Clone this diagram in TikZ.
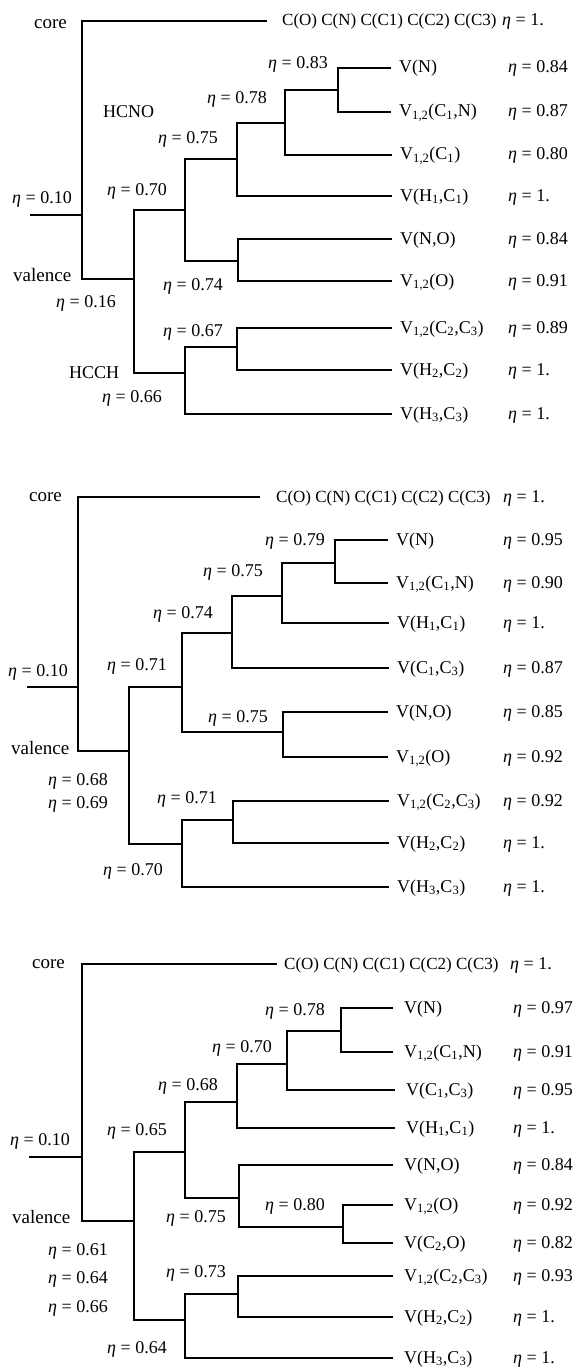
\documentclass[tikz,border=0pt]{standalone}
\usepackage{fontspec}
\setmainfont{Liberation Serif}
\newcommand\et[1]{{\itshape η} = #1}
\newcommand\lo[1]{\textsubscript{#1}}
% bracket of a dendrogram: parent #1 joins children #2 and #3
\newcommand\dbranch[3]{\draw[branch] (#2) -- (#2 -| #1) -- (#3 -| #1) -- (#3);}
\begin{document}
\begin{tikzpicture}[x=1pt,y=-1pt,
  branch/.style={line width=1.8pt, line join=miter},
  txt/.style={anchor=west, inner sep=0pt, text height=12pt, text depth=2pt,
              font=\fontsize{18}{21}\selectfont},
  big/.style={txt, font=\fontsize{19}{22}\selectfont},
  leaf/.style={txt, inner xsep=8pt},
  corerow/.style={leaf, font=\fontsize{17}{20}\selectfont},
  etaR/.style={txt}]
\useasboundingbox (0,0) rectangle (575,1367);

% ---------------- first tree ----------------
\coordinate (p1s) at (30,215);
\coordinate (p1r) at (82,215);
\coordinate (p1v) at (134,279);
\coordinate (p1hcno) at (185,210);
\coordinate (p1hcch) at (185,373);
\coordinate (p1a) at (237,159);
\coordinate (p1a1) at (285,123);
\coordinate (p1a2) at (338,90);
\coordinate (p1b) at (238,261);
\coordinate (p1c) at (237,347);

\node[corerow, inner xsep=15pt] (p1core) at (267,21) {C(O) C(N) C(C1) C(C2) C(C3)};
\node[leaf] (p1l1) at (391,68)  {V(N)};
\node[leaf] (p1l2) at (391,112) {V\lo{1,2}(C\lo{1},N)};
\node[leaf] (p1l3) at (392,155) {V\lo{1,2}(C\lo{1})};
\node[leaf] (p1l4) at (392,196) {V(H\lo{1},C\lo{1})};
\node[leaf] (p1l5) at (392,239) {V(N,O)};
\node[leaf] (p1l6) at (392,281) {V\lo{1,2}(O)};
\node[leaf] (p1l7) at (392,328) {V\lo{1,2}(C\lo{2},C\lo{3})};
\node[leaf] (p1l8) at (392,370) {V(H\lo{2},C\lo{2})};
\node[leaf] (p1l9) at (392,414) {V(H\lo{3},C\lo{3})};

\node[etaR] (p1e0) at (502,21)  {\et{1.}};
\node[etaR] (p1e1) at (508,68)  {\et{0.84}};
\node[etaR] (p1e2) at (508,112) {\et{0.87}};
\node[etaR] (p1e3) at (508,155) {\et{0.80}};
\node[etaR] (p1e4) at (508,196) {\et{1.}};
\node[etaR] (p1e5) at (508,239) {\et{0.84}};
\node[etaR] (p1e6) at (508,281) {\et{0.91}};
\node[etaR] (p1e7) at (508,328) {\et{0.89}};
\node[etaR] (p1e8) at (508,370) {\et{1.}};
\node[etaR] (p1e9) at (508,414) {\et{1.}};

\draw[branch] (p1s) -- (p1r);
\dbranch{p1r}{p1core.west}{p1v}
\dbranch{p1v}{p1hcno}{p1hcch}
\dbranch{p1hcno}{p1a}{p1b}
\dbranch{p1a}{p1a1}{p1l4.west}
\dbranch{p1a1}{p1a2}{p1l3.west}
\dbranch{p1a2}{p1l1.west}{p1l2.west}
\dbranch{p1b}{p1l5.west}{p1l6.west}
\dbranch{p1hcch}{p1c}{p1l9.west}
\dbranch{p1c}{p1l7.west}{p1l8.west}

\node[big] (p1t1) at (34,24)   {core};
\node[txt] (p1t2) at (12,199)  {\et{0.10}};
\node[big] (p1t3) at (13,276)  {valence};
\node[txt] (p1t4) at (56,302)  {\et{0.16}};
\node[txt] (p1t5) at (103,113) {HCNO};
\node[txt] (p1t6) at (69,373)  {HCCH};
\node[txt] (p1t7) at (107,191) {\et{0.70}};
\node[txt] (p1t8) at (102,397) {\et{0.66}};
\node[txt] (p1t9) at (158,139) {\et{0.75}};
\node[txt] (p1t10) at (207,99) {\et{0.78}};
\node[txt] (p1t11) at (268,64) {\et{0.83}};
\node[txt] (p1t12) at (163,285) {\et{0.74}};
\node[txt] (p1t13) at (163,331) {\et{0.67}};

% ---------------- second tree ----------------
\coordinate (p2s) at (27,687);
\coordinate (p2r) at (78,687);
\coordinate (p2v) at (129,751);
\coordinate (p2h) at (182,687);
\coordinate (p2k) at (182,844);
\coordinate (p2a) at (232,633);
\coordinate (p2a1) at (282,596);
\coordinate (p2a2) at (335,563);
\coordinate (p2b) at (283,732);
\coordinate (p2c) at (233,820);

\node[corerow, inner xsep=16pt] (p2core) at (260,497) {C(O) C(N) C(C1) C(C2) C(C3)};
\node[leaf] (p2l1) at (388,540) {V(N)};
\node[leaf] (p2l2) at (388,583) {V\lo{1,2}(C\lo{1},N)};
\node[leaf] (p2l3) at (389,623) {V(H\lo{1},C\lo{1})};
\node[leaf] (p2l4) at (389,668) {V(C\lo{1},C\lo{3})};
\node[leaf] (p2l5) at (388,712) {V(N,O)};
\node[leaf] (p2l6) at (388,757) {V\lo{1,2}(O)};
\node[leaf] (p2l7) at (389,801) {V\lo{1,2}(C\lo{2},C\lo{3})};
\node[leaf] (p2l8) at (389,843) {V(H\lo{2},C\lo{2})};
\node[leaf] (p2l9) at (389,887) {V(H\lo{3},C\lo{3})};

\node[etaR] (p2e0) at (503,497) {\et{1.}};
\node[etaR] (p2e1) at (503,540) {\et{0.95}};
\node[etaR] (p2e2) at (503,583) {\et{0.90}};
\node[etaR] (p2e3) at (503,623) {\et{1.}};
\node[etaR] (p2e4) at (503,668) {\et{0.87}};
\node[etaR] (p2e5) at (503,712) {\et{0.85}};
\node[etaR] (p2e6) at (503,757) {\et{0.92}};
\node[etaR] (p2e7) at (503,801) {\et{0.92}};
\node[etaR] (p2e8) at (503,843) {\et{1.}};
\node[etaR] (p2e9) at (503,887) {\et{1.}};

\draw[branch] (p2s) -- (p2r);
\dbranch{p2r}{p2core.west}{p2v}
\dbranch{p2v}{p2h}{p2k}
\dbranch{p2h}{p2a}{p2b}
\dbranch{p2a}{p2a1}{p2l4.west}
\dbranch{p2a1}{p2a2}{p2l3.west}
\dbranch{p2a2}{p2l1.west}{p2l2.west}
\dbranch{p2b}{p2l5.west}{p2l6.west}
\dbranch{p2k}{p2c}{p2l9.west}
\dbranch{p2c}{p2l7.west}{p2l8.west}

\node[big] (p2t1) at (29,496)  {core};
\node[txt] (p2t2) at (8,671)   {\et{0.10}};
\node[big] (p2t3) at (11,749)  {valence};
\node[txt] (p2t4) at (48,780)  {\et{0.68}};
\node[txt] (p2t5) at (48,803)  {\et{0.69}};
\node[txt] (p2t6) at (107,665) {\et{0.71}};
\node[txt] (p2t7) at (153,613) {\et{0.74}};
\node[txt] (p2t8) at (203,571) {\et{0.75}};
\node[txt] (p2t9) at (265,540) {\et{0.79}};
\node[txt] (p2t10) at (208,717) {\et{0.75}};
\node[txt] (p2t11) at (157,798) {\et{0.71}};
\node[txt] (p2t12) at (103,870) {\et{0.70}};

% ---------------- third tree ----------------
\coordinate (p3s) at (29,1157);
\coordinate (p3r) at (82,1157);
\coordinate (p3v) at (134,1221);
\coordinate (p3h) at (185,1152);
\coordinate (p3k) at (185,1320);
\coordinate (p3a) at (237,1102);
\coordinate (p3a1) at (287,1064);
\coordinate (p3a2) at (341,1031);
\coordinate (p3b) at (239,1198);
\coordinate (p3b1) at (343,1227);
\coordinate (p3c) at (238,1294);

\node[corerow, inner xsep=7pt] (p3core) at (277,964) {C(O) C(N) C(C1) C(C2) C(C3)};
\node[leaf, inner xsep=11pt] (p3l1) at (393,1008) {V(N)};
\node[leaf, inner xsep=11pt] (p3l2) at (393,1052) {V\lo{1,2}(C\lo{1},N)};
\node[leaf, inner xsep=11pt] (p3l3) at (395,1090) {V(C\lo{1},C\lo{3})};
\node[leaf, inner xsep=11pt] (p3l4) at (395,1128) {V(H\lo{1},C\lo{1})};
\node[leaf, inner xsep=11pt] (p3l5) at (393,1165) {V(N,O)};
\node[leaf, inner xsep=11pt] (p3l6) at (393,1205) {V\lo{1,2}(O)};
\node[leaf, inner xsep=11pt] (p3l7) at (393,1243) {V(C\lo{2},O)};
\node[leaf, inner xsep=11pt] (p3l8) at (393,1276) {V\lo{1,2}(C\lo{2},C\lo{3})};
\node[leaf, inner xsep=11pt] (p3l9) at (393,1317) {V(H\lo{2},C\lo{2})};
\node[leaf, inner xsep=11pt] (p3l10) at (393,1358) {V(H\lo{3},C\lo{3})};

\node[etaR] (p3e0) at (510,964)  {\et{1.}};
\node[etaR] (p3e1) at (513,1008) {\et{0.97}};
\node[etaR] (p3e2) at (513,1052) {\et{0.91}};
\node[etaR] (p3e3) at (513,1090) {\et{0.95}};
\node[etaR] (p3e4) at (513,1128) {\et{1.}};
\node[etaR] (p3e5) at (513,1165) {\et{0.84}};
\node[etaR] (p3e6) at (513,1205) {\et{0.92}};
\node[etaR] (p3e7) at (513,1243) {\et{0.82}};
\node[etaR] (p3e8) at (513,1276) {\et{0.93}};
\node[etaR] (p3e9) at (513,1317) {\et{1.}};
\node[etaR] (p3e10) at (513,1358) {\et{1.}};

\draw[branch] (p3s) -- (p3r);
\dbranch{p3r}{p3core.west}{p3v}
\dbranch{p3v}{p3h}{p3k}
\dbranch{p3h}{p3a}{p3b}
\dbranch{p3a}{p3a1}{p3l4.west}
\dbranch{p3a1}{p3a2}{p3l3.west}
\dbranch{p3a2}{p3l1.west}{p3l2.west}
\dbranch{p3b}{p3l5.west}{p3b1}
\dbranch{p3b1}{p3l6.west}{p3l7.west}
\dbranch{p3k}{p3c}{p3l10.west}
\dbranch{p3c}{p3l8.west}{p3l9.west}

\node[big] (p3t1) at (32,963)   {core};
\node[txt] (p3t2) at (10,1140)  {\et{0.10}};
\node[big] (p3t3) at (12,1218)  {valence};
\node[txt] (p3t4) at (48,1250)  {\et{0.61}};
\node[txt] (p3t5) at (48,1278)  {\et{0.64}};
\node[txt] (p3t6) at (48,1307)  {\et{0.66}};
\node[txt] (p3t7) at (107,1130) {\et{0.65}};
\node[txt] (p3t8) at (158,1085) {\et{0.68}};
\node[txt] (p3t9) at (212,1047) {\et{0.70}};
\node[txt] (p3t10) at (265,1010) {\et{0.78}};
\node[txt] (p3t11) at (166,1217) {\et{0.75}};
\node[txt] (p3t12) at (265,1205) {\et{0.80}};
\node[txt] (p3t13) at (166,1272) {\et{0.73}};
\node[txt] (p3t14) at (107,1348) {\et{0.64}};
\end{tikzpicture}
\end{document}
